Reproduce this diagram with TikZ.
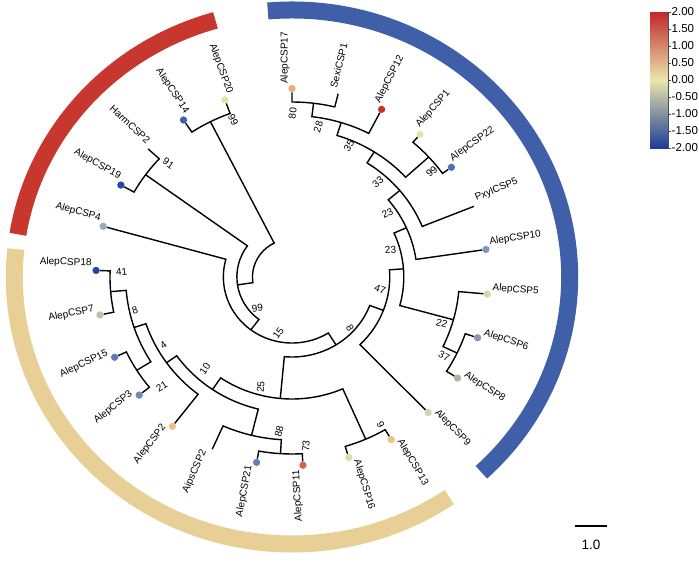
\documentclass[tikz,border=0pt]{standalone}
\usepackage{fontspec}
\setmainfont{Liberation Sans}

\definecolor{bandred}{RGB}{200,55,45}
\definecolor{bandblue}{RGB}{63,95,169}
\definecolor{bandtan}{RGB}{232,207,149}
\definecolor{heatA}{RGB}{192,39,45}
\definecolor{heatB}{RGB}{217,138,112}
\definecolor{heatC}{RGB}{234,230,172}
\definecolor{heatD}{RGB}{113,137,186}
\definecolor{heatE}{RGB}{28,60,150}
\definecolor{dot17}{RGB}{236,172,122}
\definecolor{dot12}{RGB}{205,48,40}
\definecolor{dot1}{RGB}{232,226,168}
\definecolor{dot22}{RGB}{80,112,180}
\definecolor{dot10}{RGB}{128,150,188}
\definecolor{dot5}{RGB}{214,216,170}
\definecolor{dot6}{RGB}{135,152,178}
\definecolor{dot8}{RGB}{172,178,168}
\definecolor{dot9}{RGB}{210,214,172}
\definecolor{dot13}{RGB}{236,196,128}
\definecolor{dot16}{RGB}{220,220,172}
\definecolor{dot11}{RGB}{222,96,70}
\definecolor{dot21}{RGB}{100,128,184}
\definecolor{dot2}{RGB}{236,190,136}
\definecolor{dot3}{RGB}{108,136,190}
\definecolor{dot15}{RGB}{92,124,188}
\definecolor{dot7}{RGB}{186,196,168}
\definecolor{dot18}{RGB}{36,70,170}
\definecolor{dot4}{RGB}{150,168,186}
\definecolor{dot19}{RGB}{36,72,168}
\definecolor{dot14}{RGB}{62,96,178}
\definecolor{dot20}{RGB}{236,224,168}

\begin{document}
\begin{tikzpicture}[x=1pt, y=1pt,
	branch/.style={line width=1.4pt},
	band/.style={line width=17pt},
	leafdot/.style={circle, fill=#1, minimum size=7.3pt, inner sep=0pt},
	leaftext/.style={font=\fontsize{10}{12}\selectfont, inner sep=2pt},
	lblR/.style={leaftext, rotate=#1, anchor=south west},
	lblL/.style={leaftext, rotate=#1, anchor=south east},
	boot/.style={font=\fontsize{10}{12}\selectfont, inner sep=0pt},
	scalelbl/.style={font=\fontsize{11.5}{13}\selectfont, anchor=west, inner sep=0pt}]
	\useasboundingbox (0,0) rectangle (699,-562);
	\begin{scope}[shift={(292,-277)}, xscale=1.04]
		\draw[band, bandred] (106:267) arc[start angle=106, end angle=170.8, radius=267];
		\draw[band, bandtan] (174:267) arc[start angle=174, end angle=304.5, radius=267];
		\draw[band, bandblue] (95:267) arc[start angle=95, end angle=-47, radius=267];

		\node[leafdot=dot17] (d17) at (90:188.5) {};
		\coordinate (sexi1) at (76.4:188.5);
		\node[leafdot=dot12] (d12) at (62.8:188.5) {};
		\node[leafdot=dot1] (d1) at (49.2:188.5) {};
		\node[leafdot=dot22] (d22) at (35.6:188.5) {};
		\coordinate (pxyl5) at (22:188.5);
		\node[leafdot=dot10] (d10) at (8.4:188.5) {};
		\node[leafdot=dot5] (d5) at (-5.2:188.5) {};
		\node[leafdot=dot6] (d6) at (-18.8:188.5) {};
		\node[leafdot=dot8] (d8) at (-32.4:188.5) {};
		\node[leafdot=dot9] (d9) at (-46:188.5) {};
		\node[leafdot=dot13] (d13) at (-59.6:188.5) {};
		\node[leafdot=dot16] (d16) at (-73.2:188.5) {};
		\node[leafdot=dot11] (d11) at (-86.8:188.5) {};
		\node[leafdot=dot21] (d21) at (-100.4:188.5) {};
		\coordinate (aips2) at (-114:188.5);
		\node[leafdot=dot2] (d2) at (-127.6:188.5) {};
		\node[leafdot=dot3] (d3) at (-141.2:188.5) {};
		\node[leafdot=dot15] (d15) at (-154.8:188.5) {};
		\node[leafdot=dot7] (d7) at (-168.4:188.5) {};
		\node[leafdot=dot18] (d18) at (-182:188.5) {};
		\node[leafdot=dot4] (d4) at (-195.6:188.5) {};
		\node[leafdot=dot19] (d19) at (-209.2:188.5) {};
		\coordinate (harm2) at (-222.8:188.5);
		\node[leafdot=dot14] (d14) at (-236.4:188.5) {};
		\node[leafdot=dot20] (d20) at (-250:188.5) {};

		\node[lblR=90] (t17) at (90:191) {AlepCSP17};
		\node[lblR=76.4] (tsexi) at (76.4:191) {SexiCSP1};
		\node[lblR=62.8] (t12) at (62.8:191) {AlepCSP12};
		\node[lblR=49.2] (t1) at (49.2:191) {AlepCSP1};
		\node[lblR=35.6] (t22) at (35.6:191) {AlepCSP22};
		\node[lblR=22] (tpxyl) at (22:191) {PxylCSP5};
		\node[lblR=8.4] (t10) at (8.4:191) {AlepCSP10};
		\node[lblR=-5.2] (t5) at (-5.2:191) {AlepCSP5};
		\node[lblR=-18.8] (t6) at (-18.8:191) {AlepCSP6};
		\node[lblR=-32.4] (t8) at (-32.4:191) {AlepCSP8};
		\node[lblR=-46] (t9) at (-46:191) {AlepCSP9};
		\node[lblR=-59.6] (t13) at (-59.6:191) {AlepCSP13};
		\node[lblR=-73.2] (t16) at (-73.2:191) {AlepCSP16};
		\node[lblL=93.2] (t11) at (-86.8:191) {AlepCSP11};
		\node[lblL=79.6] (t21) at (-100.4:191) {AlepCSP21};
		\node[lblL=66] (taips) at (-114:191) {AipsCSP2};
		\node[lblL=52.4] (t2) at (-127.6:191) {AlepCSP2};
		\node[lblL=38.8] (t3) at (-141.2:191) {AlepCSP3};
		\node[lblL=25.2] (t15) at (-154.8:191) {AlepCSP15};
		\node[lblL=11.6] (t7) at (-168.4:191) {AlepCSP7};
		\node[lblL=-2] (t18) at (-182:191) {AlepCSP18};
		\node[lblL=-15.6] (t4) at (-195.6:191) {AlepCSP4};
		\node[lblL=-29.2] (t19) at (-209.2:191) {AlepCSP19};
		\node[lblL=-42.8] (tharm) at (-222.8:191) {HarmCSP2};
		\node[lblL=-56.4] (t14) at (-236.4:191) {AlepCSP14};
		\node[lblL=-70] (t20) at (-250:191) {AlepCSP20};

		\coordinate (n80) at (83.2:175);
		\coordinate (n28) at (73:161.5);
		\coordinate (n99a) at (42.4:178);
		\coordinate (n35) at (57.7:148);
		\coordinate (n33) at (39.85:135);
		\coordinate (n23a) at (24.125:120.5);
		\coordinate (n37) at (-25.6:176);
		\coordinate (n22) at (-15.4:161);
		\coordinate (n23b) at (4.3625:107.5);
		\coordinate (n47) at (-20.81875:94);
		\coordinate (n9) at (-66.4:177);
		\coordinate (n73) at (-93.6:177);
		\coordinate (n88) at (-103.8:163);
		\coordinate (n41) at (-175.2:175);
		\coordinate (n21) at (-148:176);
		\coordinate (n8b) at (-161.6:160);
		\coordinate (n4) at (-144.6:148);
		\coordinate (n10) at (-124.2:136);
		\coordinate (n25) at (-95.3:122);
		\coordinate (n8a) at (-58.06:80);
		\coordinate (n15) at (-126.83:66);
		\coordinate (n91) at (-216:174);
		\coordinate (n99b) at (-171.415:53);
		\coordinate (n99c) at (-243.2:174);

		\draw[branch] (d17) -- (90:175) arc[start angle=90, end angle=76.4, radius=175] -- (sexi1);
		\draw[branch] (n80) -- (83.2:161.5) arc[start angle=83.2, end angle=62.8, radius=161.5] -- (d12);
		\draw[branch] (d1) -- (49.2:178) arc[start angle=49.2, end angle=35.6, radius=178] -- (d22);
		\draw[branch] (n28) -- (73:148) arc[start angle=73, end angle=42.4, radius=148] -- (n99a);
		\draw[branch] (n35) -- (57.7:135) arc[start angle=57.7, end angle=22, radius=135] -- (pxyl5);
		\draw[branch] (n33) -- (39.85:120.5) arc[start angle=39.85, end angle=8.4, radius=120.5] -- (d10);
		\draw[branch] (d6) -- (-18.8:176) arc[start angle=-18.8, end angle=-32.4, radius=176] -- (d8);
		\draw[branch] (d5) -- (-5.2:161) arc[start angle=-5.2, end angle=-25.6, radius=161] -- (n37);
		\draw[branch] (n23a) -- (24.125:107.5) arc[start angle=24.125, end angle=-15.4, radius=107.5] -- (n22);
		\draw[branch] (n23b) -- (4.3625:94) arc[start angle=4.3625, end angle=-46, radius=94] -- (d9);
		\draw[branch] (d13) -- (-59.6:177) arc[start angle=-59.6, end angle=-73.2, radius=177] -- (d16);
		\draw[branch] (d11) -- (-86.8:177) arc[start angle=-86.8, end angle=-100.4, radius=177] -- (d21);
		\draw[branch] (n73) -- (-93.6:163) arc[start angle=-93.6, end angle=-114, radius=163] -- (aips2);
		\draw[branch] (d7) -- (-168.4:175) arc[start angle=-168.4, end angle=-182, radius=175] -- (d18);
		\draw[branch] (d15) -- (-154.8:176) arc[start angle=-154.8, end angle=-141.2, radius=176] -- (d3);
		\draw[branch] (n41) -- (-175.2:160) arc[start angle=-175.2, end angle=-148, radius=160] -- (n21);
		\draw[branch] (n8b) -- (-161.6:148) arc[start angle=-161.6, end angle=-127.6, radius=148] -- (d2);
		\draw[branch] (n4) -- (-144.6:136) arc[start angle=-144.6, end angle=-103.8, radius=136] -- (n88);
		\draw[branch] (n10) -- (-124.2:122) arc[start angle=-124.2, end angle=-66.4, radius=122] -- (n9);
		\draw[branch] (n47) -- (-20.81875:80) arc[start angle=-20.81875, end angle=-95.3, radius=80] -- (n25);
		\draw[branch] (n8a) -- (-58.06:66) arc[start angle=-58.06, end angle=-195.6, radius=66] -- (d4);
		\draw[branch] (d19) -- (-209.2:174) arc[start angle=-209.2, end angle=-222.8, radius=174] -- (harm2);
		\draw[branch] (n15) -- (-126.83:53) arc[start angle=-126.83, end angle=-216, radius=53] -- (n91);
		\draw[branch] (d14) -- (-236.4:174) arc[start angle=-236.4, end angle=-250, radius=174] -- (d20);
		\draw[branch] (n99b) -- (-171.415:38) arc[start angle=-171.415, end angle=-243.2, radius=38] -- (n99c);
	\end{scope}

	\node[boot, rotate=83.2] (b80) at (292.7,-113.3) {80};
	\node[boot, rotate=73] (b28) at (318.3,-126.7) {28};
	\node[boot, rotate=57.7] (b35) at (349,-146) {35};
	\node[boot, rotate=39.85] (b33) at (378,-182) {33};
	\node[boot, rotate=42.4] (b99a) at (431.7,-171.7) {99};
	\node[boot, rotate=24.1] (b23a) at (387.5,-213.3) {23};
	\node[boot, rotate=4.4] (b23b) at (390.5,-250) {23};
	\node[boot, rotate=-20.8] (b47) at (380,-289) {47};
	\node[boot, rotate=-58.1] (b8a) at (350,-328.3) {8};
	\node[boot, rotate=-15.4] (b22) at (441.7,-323.3) {22};
	\node[boot, rotate=-25.6] (b37) at (444,-356) {37};
	\node[boot, rotate=-66.4] (b9) at (380.7,-425) {9};
	\node[boot, rotate=86.4] (b73) at (306,-446) {73};
	\node[boot, rotate=76.2] (b88) at (279,-431.7) {88};
	\node[boot, rotate=84.7] (b25) at (260.7,-386.7) {25};
	\node[boot, rotate=55.8] (b10) at (205,-369) {10};
	\node[boot, rotate=35.4] (b4) at (163.3,-345.5) {4};
	\node[boot, rotate=32] (b21) at (161.7,-387) {21};
	\node[boot, rotate=18.4] (b8b) at (135,-310) {8};
	\node[boot, rotate=4.8] (b41) at (121.7,-271.7) {41};
	\node[boot, rotate=53.2] (b15) at (278.3,-333.5) {15};
	\node[boot, rotate=8.6] (b99b) at (257.3,-308.3) {99};
	\node[boot, rotate=-36] (b91) at (168.3,-163.3) {91};
	\node[boot, rotate=-63.2] (b99c) at (233.3,-120) {99};

	\shade[top color=heatA, middle color=heatB, bottom color=heatC] (650,-12) rectangle (668,-80);
	\shade[top color=heatC, middle color=heatD, bottom color=heatE] (650,-80) rectangle (668,-148);
	\draw[line width=0.5pt, black!70] (668,-12) -- (668,-148)
		(668,-12) -- (671,-12) (668,-29) -- (671,-29) (668,-46) -- (671,-46)
		(668,-63) -- (671,-63) (668,-80) -- (671,-80) (668,-97) -- (671,-97)
		(668,-114) -- (671,-114) (668,-131) -- (671,-131) (668,-148) -- (671,-148);
	\node[scalelbl] (v1) at (671.5,-12) {2.00};
	\node[scalelbl] (v2) at (671.5,-29) {1.50};
	\node[scalelbl] (v3) at (671.5,-46) {1.00};
	\node[scalelbl] (v4) at (671.5,-63) {0.50};
	\node[scalelbl] (v5) at (671.5,-80) {0.00};
	\node[scalelbl] (v6) at (671.5,-97) {-0.50};
	\node[scalelbl] (v7) at (671.5,-114) {-1.00};
	\node[scalelbl] (v8) at (671.5,-131) {-1.50};
	\node[scalelbl] (v9) at (671.5,-148) {-2.00};

	\coordinate (sbl) at (575,-526);
	\coordinate (sbr) at (607,-526);
	\draw[line width=1.2pt] (sbl) -- (sbr);
	\node[font=\fontsize{13.5}{15}\selectfont] (sbt) at (591,-545) {1.0};
\end{tikzpicture}
\end{document}
